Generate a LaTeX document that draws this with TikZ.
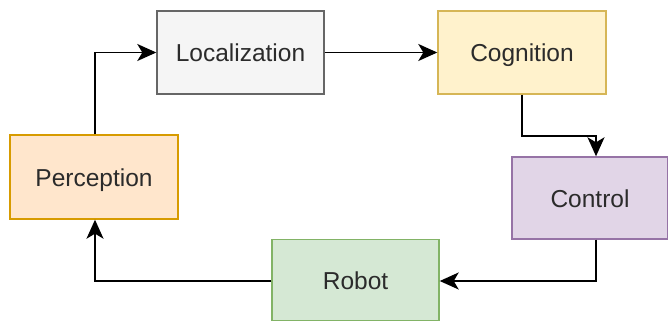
\documentclass[tikz,border=0pt]{standalone}
\usepackage{fontspec}
\setmainfont{Liberation Sans}
\usetikzlibrary{arrows.meta}
\definecolor{txt}{HTML}{2B2B2B}
\tikzset{
  blk/.style={draw, line width=1.4pt, minimum width=#1, inner sep=0pt, text=txt, text height=20pt, text depth=2pt, font=\fontsize{24.5}{28}\selectfont},
  conn/.style={draw=black, line width=1.7pt, -{Stealth[length=19pt,width=17pt,inset=5pt]}}
}
\begin{document}
\begin{tikzpicture}[x=1pt,y=-1pt]
\useasboundingbox (0,0) rectangle (668,321);
\node[blk=167pt, minimum height=83pt, fill={rgb,255:red,245;green,245;blue,245}, draw={rgb,255:red,102;green,102;blue,102}] (loc) at (240.5,52.5) {Localization};
\node[blk=168pt, minimum height=83pt, fill={rgb,255:red,255;green,242;blue,204}, draw={rgb,255:red,214;green,182;blue,86}] (cog) at (522,52.5) {Cognition};
\node[blk=156pt, minimum height=82pt, fill={rgb,255:red,225;green,213;blue,231}, draw={rgb,255:red,150;green,115;blue,166}] (ctl) at (590,198) {Control};
\node[blk=167pt, minimum height=81pt, fill={rgb,255:red,213;green,232;blue,212}, draw={rgb,255:red,130;green,179;blue,102}] (rob) at (355.5,280) {Robot};
\node[blk=168pt, minimum height=84pt, fill={rgb,255:red,255;green,230;blue,204}, draw={rgb,255:red,215;green,155;blue,0}] (per) at (94,177) {Perception};
\coordinate (c1) at (95,52.5);
\coordinate (c2) at (522,136);
\coordinate (c3) at (596,136);
\coordinate (c4) at (596,281);
\coordinate (c5) at (95,281);
\draw[conn] (per.north -| c1) -- (c1) -- (loc.west);
\draw[conn] (loc.east) -- (cog.west);
\draw[conn] (cog.south) -- (c2) -- (c3) -- (ctl.north -| c3);
\draw[conn] (ctl.south -| c4) -- (c4) -- (rob.east |- c4);
\draw[conn] (rob.west |- c5) -- (c5) -- (per.south -| c5);
\end{tikzpicture}
\end{document}
